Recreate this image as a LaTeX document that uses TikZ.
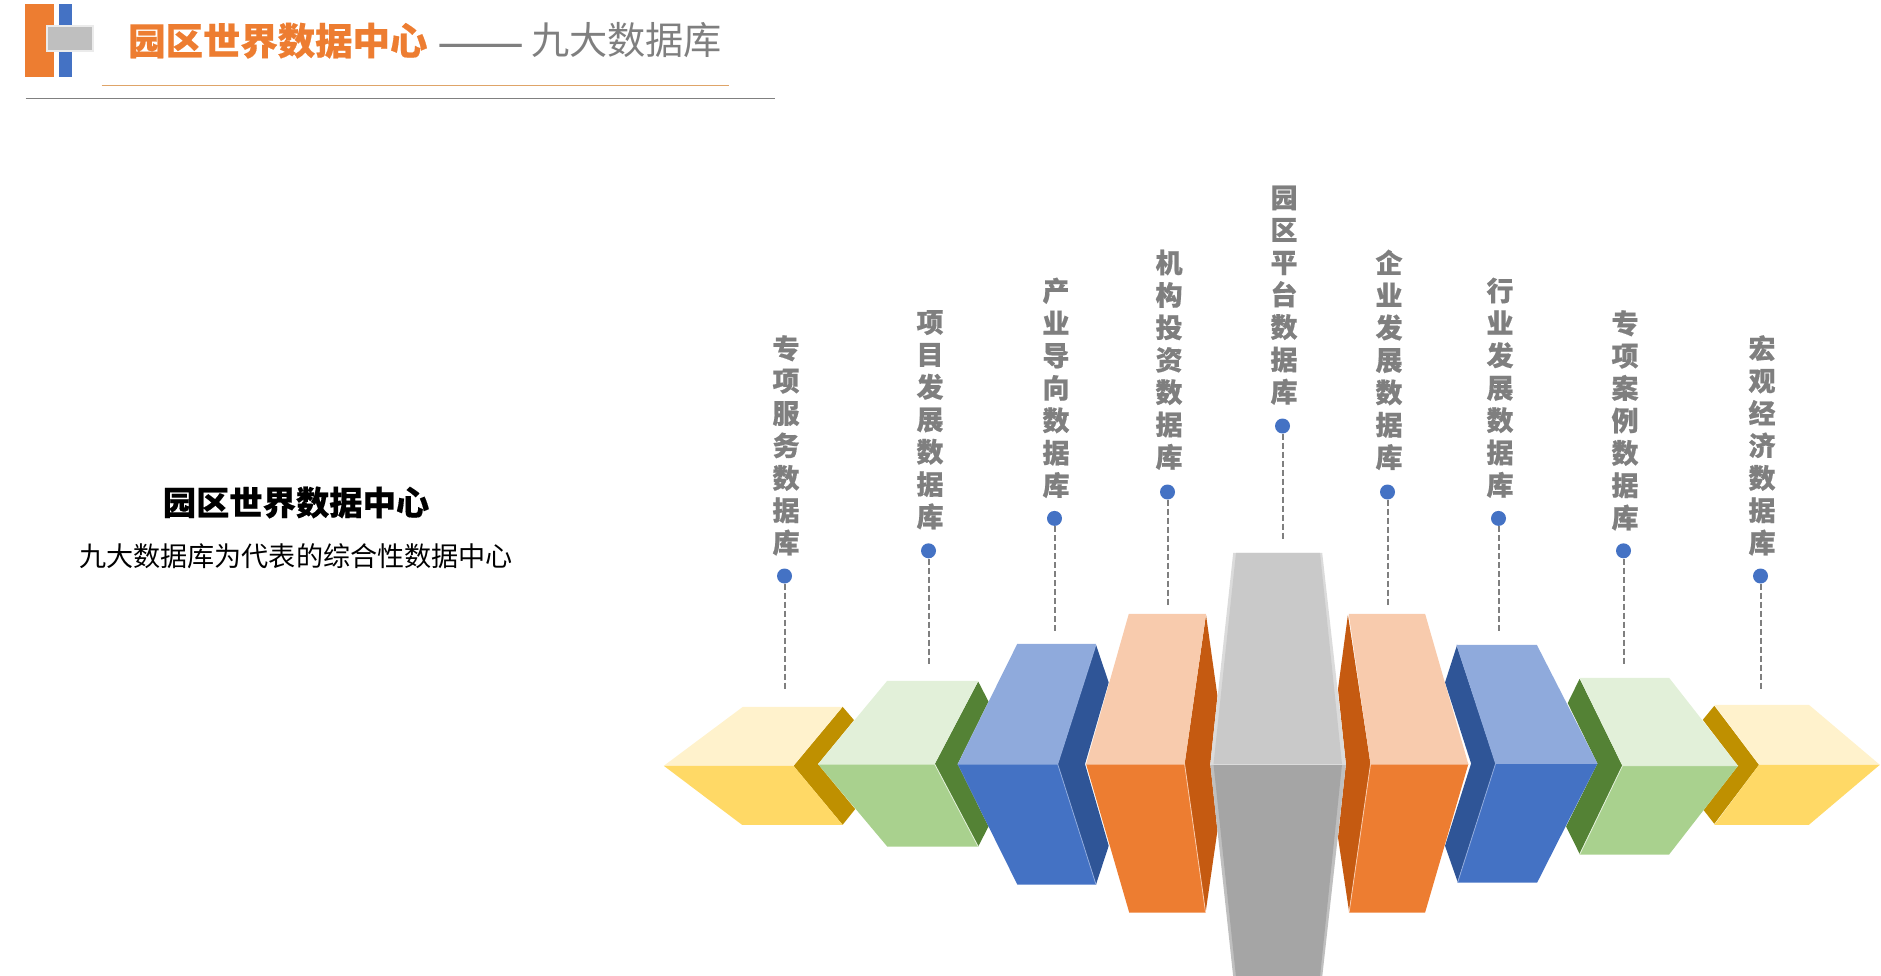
\documentclass[tikz,border=0pt]{standalone}
\usepackage{fontspec}
\setmainfont{Noto Sans CJK SC}
\definecolor{yl}{HTML}{FFF2CC}\definecolor{ym}{HTML}{FFD966}\definecolor{yd}{HTML}{BF9000}
\definecolor{gl}{HTML}{E2F0D9}\definecolor{gm}{HTML}{A9D18E}\definecolor{gd}{HTML}{548235}
\definecolor{bl}{HTML}{8FAADC}\definecolor{bm}{HTML}{4472C4}\definecolor{bd}{HTML}{2F5597}
\definecolor{ol}{HTML}{F8CBAD}\definecolor{om}{HTML}{ED7D31}\definecolor{od}{HTML}{C55A11}
\definecolor{sl}{HTML}{C9C9C9}\definecolor{sm}{HTML}{A5A5A5}\definecolor{txg}{HTML}{7F7F7F}
\definecolor{rulec}{HTML}{DFA468}
\tikzset{
  vlabel/.style={font=\fontsize{27}{32.4}\selectfont\bfseries\addfontfeatures{FakeBold=0.5},text=txg,align=center,inner sep=0pt,anchor=north},
  pin/.style={circle,fill=bm,minimum size=15pt,inner sep=0pt},
  leader/.style={draw=txg,line width=2pt,dash pattern=on 6pt off 3pt},
  seam/.style={line width=.8pt}
}
\begin{document}
\begin{tikzpicture}[x=1pt,y=-1pt]
\useasboundingbox (0,0) rectangle (1881,976);
% header
\fill[om] (25,4) rectangle (53.6,77);
\fill[bm] (59.2,4) rectangle (72,77);
\fill[fill=black!25,draw=white!92!black,line width=2pt] (47,26) rectangle (93,50.7);
\node[anchor=west,inner sep=0pt,font=\fontsize{37.4}{40}\selectfont] (title) at (128,41.5)
  {\textcolor{om}{\bfseries\addfontfeatures{FakeBold=0.5}园区世界数据中心}\hspace{10pt}\textcolor{txg}{\raisebox{-5.5pt}{\fontsize{52}{40}\selectfont ——}\hspace{-1.8pt} \fontsize{38.2}{40}\selectfont 九大数据库}};
\coordinate (r1a) at (101.5,85.3);\coordinate (r1b) at (728.6,85.3);
\coordinate (r2a) at (25.5,98.3);\coordinate (r2b) at (775,98.3);
\draw[rulec,line width=1pt] (r1a)--(r1b);
\draw[black!50,line width=1pt] (r2a)--(r2b);
% left caption
\node[font=\fontsize{33.3}{36}\selectfont\bfseries\addfontfeatures{FakeBold=0.3},inner sep=0pt] (cap) at (296,502.5) {园区世界数据中心};
\node[font=\fontsize{27.1}{30}\selectfont,inner sep=0pt] (sub) at (296,556.5) {九大数据库为代表的综合性数据中心};
\begin{scope}[shift={(0,0.8)}]
% left blocks
\fill[yd] (842.6,706)--(854,719.3)--(818,763.3)--(855.2,808.3)--(842.6,824)--(793.5,765)--cycle;
\fill[yl] (663.8,765)--(742.9,706)--(842.6,706)--(793.5,765)--cycle;
\fill[ym] (663.8,765)--(742,824)--(842.6,824)--(793.5,765)--cycle;
\fill[gd] (978.2,680.7)--(988.5,700.7)--(957.6,763.3)--(988.5,825.7)--(978.2,845.7)--(934.7,763.3)--cycle;
\fill[gl] (818,763.3)--(887.2,680)--(978.2,680)--(934.7,763.3)--cycle;
\fill[gm] (818,763.3)--(887.2,845.7)--(978.2,845.7)--(934.7,763.3)--cycle;
\draw[gl,seam] (818,763.3)--(934.7,763.3)--(978.2,845.7);
\fill[bd] (1096,644)--(1108.7,681.7)--(1085,763.3)--(1108.7,845)--(1096,883.7)--(1057.7,763.3)--cycle;
\fill[bl] (957.6,763.3)--(1017.3,643)--(1096,643)--(1057.7,763.3)--cycle;
\fill[bm] (957.6,763.3)--(1017.3,883.7)--(1096,883.7)--(1057.7,763.3)--cycle;
\draw[bl,seam] (957.6,763.3)--(1057.7,763.3)--(1096,883.7);
\draw[bl,seam] (1057.7,763.3)--(1096,644);
\fill[od] (1206,614)--(1217.4,695)--(1210.3,763.3)--(1217.4,830)--(1205.6,911.7)--(1184.6,763.3)--cycle;
\fill[ol] (1086.1,763.3)--(1128.8,613)--(1206,613)--(1184.6,763.3)--cycle;
\fill[om] (1086.1,763.3)--(1129.2,911.7)--(1205.6,911.7)--(1184.6,763.3)--cycle;
\draw[ol,seam] (1086.1,763.3)--(1184.6,763.3)--(1205.6,911.7);
% right blocks
\fill[yd] (1714.3,705)--(1702.8,719)--(1738,765)--(1703.6,809.3)--(1714.3,823)--(1759,764)--cycle;
\fill[yl] (1714.3,704)--(1808.9,704)--(1879.8,764)--(1759,764)--cycle;
\fill[ym] (1714.3,824)--(1808.9,824)--(1879.8,764)--(1759,764)--cycle;
\fill[gd] (1579.6,678)--(1567.7,702.3)--(1597.4,762.7)--(1566.1,825.7)--(1579.6,853)--(1622.4,765)--cycle;
\fill[gl] (1579.6,677)--(1669.1,677)--(1738,765)--(1622.4,765)--cycle;
\fill[gm] (1579.6,853.7)--(1669.1,853.7)--(1738,765)--(1622.4,765)--cycle;
\draw[gl,seam] (1738,765)--(1622.4,765)--(1579.6,853.7);
\fill[bd] (1456.8,645)--(1445,681.7)--(1471.1,762.7)--(1445,845)--(1457.6,881)--(1495.6,762.7)--cycle;
\fill[bl] (1456.8,644)--(1536.8,644)--(1597.4,762.7)--(1495.6,762.7)--cycle;
\fill[bm] (1457.6,881.7)--(1537.2,881.7)--(1597.4,762.7)--(1495.6,762.7)--cycle;
\draw[bl,seam] (1597.4,762.7)--(1495.6,762.7)--(1457.6,881.7);
\draw[bl,seam] (1495.6,762.7)--(1456.8,644);
\fill[od] (1347.9,614)--(1338,688.3)--(1345.9,763.3)--(1338,836.7)--(1349.1,911)--(1370.5,763.3)--cycle;
\fill[ol] (1348.7,613)--(1425.1,613)--(1468.3,763.3)--(1370.5,763.3)--cycle;
\fill[om] (1349.1,911.7)--(1425.1,911.7)--(1468.3,763.3)--(1370.5,763.3)--cycle;
\draw[ol,seam] (1468.3,763.3)--(1370.5,763.3)--(1349.1,911.7);
% centre block
\fill[black!14] (1210.3,763.3)--(1233.2,552)--(1322.2,552)--(1345.9,763.3)--cycle;
\fill[black!25] (1210.3,763.3)--(1233.2,976)--(1322.2,976)--(1345.9,763.3)--cycle;
\fill[sl] (1213.5,763.3)--(1236,552)--(1320,552)--(1342,763.3)--cycle;
\fill[sm] (1213.5,763.3)--(1236,976)--(1320,976)--(1342,763.3)--cycle;
\draw[black!14,seam] (1210.3,763.3)--(1345.9,763.3);
\end{scope}
% pins and leaders
\foreach \n/\x/\y/\e/\t/\ty in {
 a/784.5/576/690/专\\项\\服\\务\\数\\据\\库/335,
 b/928.5/550.8/665/项\\目\\发\\展\\数\\据\\库/310,
 c/1054.5/518.4/633/产\\业\\导\\向\\数\\据\\库/277.5,
 d/1167.5/492/606/机\\构\\投\\资\\数\\据\\库/249.5,
 e/1282.5/426/541/园\\区\\平\\台\\数\\据\\库/185.5,
 f/1387.5/492/606/企\\业\\发\\展\\数\\据\\库/249.5,
 g/1498.5/518.4/633/行\\业\\发\\展\\数\\据\\库/277.5,
 h/1623.5/550.8/665/专\\项\\案\\例\\数\\据\\库/310,
 i/1760.5/576/690/宏\\观\\经\\济\\数\\据\\库/335}{
  \node[pin] (p\n) at (\x,\y) {};
  \coordinate (q\n) at (\x,\e);
  \draw[leader] (p\n) -- (q\n);
  \node[vlabel] (l\n) at (\x+1.5,\ty) {\t};
}
\end{tikzpicture}
\end{document}
